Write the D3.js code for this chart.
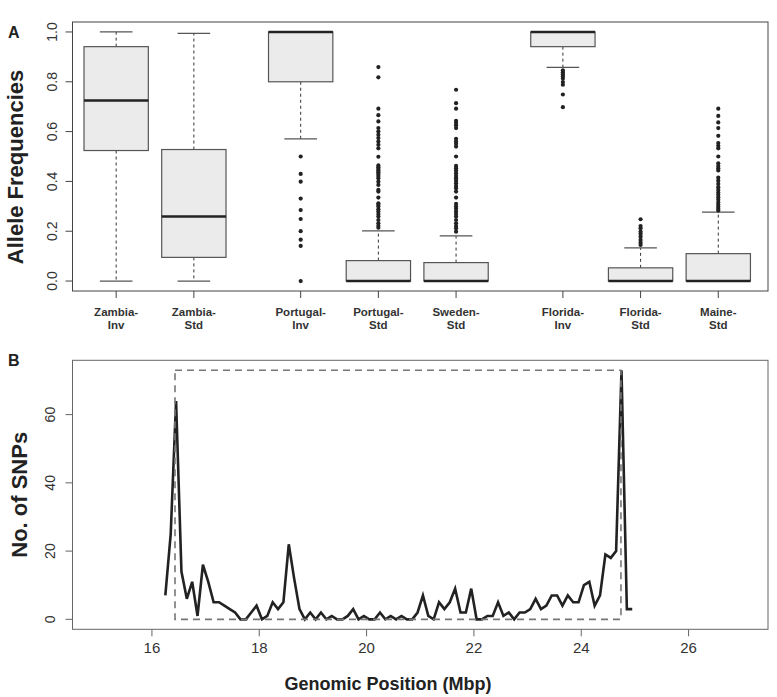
<!DOCTYPE html>
<html><head><meta charset="utf-8">
<script src="https://cdn.jsdelivr.net/npm/d3@7"></script>
<style>
html,body{margin:0;padding:0;background:#fff;}
svg text{font-family:"Liberation Sans",Arial,Helvetica,sans-serif;fill:#333;}
</style></head>
<body>
<svg id="chart" width="777" height="697"></svg>
<script>
// ---------- Panel A data ----------
const categories = ["Zambia-Inv","Zambia-Std","Portugal-Inv","Portugal-Std","Sweden-Std","Florida-Inv","Florida-Std","Maine-Std"];
const boxPositions = [1, 2, 3.375, 4.375, 5.375, 6.75, 7.75, 8.75];
const whiskerLow  = [0,     0,     0.571, 0,     0,     0.858, 0,     0];
const q1          = [0.524, 0.095, 0.80,  0,     0,     0.941, 0,     0];
const medians     = [0.725, 0.259, 1.0,   0,     0,     1.0,   0,     0];
const q3          = [0.941, 0.528, 1.0,   0.082, 0.074, 1.0,   0.053, 0.110];
const whiskerHigh = [1.0,   0.994, 1.0,   0.201, 0.181, 1.0,   0.133, 0.277];
const outliers = [
  [],
  [],
  [0.500,0.430,0.399,0.331,0.285,0.249,0.200,0.166,0.141,0.0],
  [0.859,0.818,0.692,0.666,0.641,0.614,0.600,0.587,0.574,0.560,0.547,0.533,0.499,0.464,0.457,0.450,0.444,0.437,0.430,0.422,0.413,0.399,0.386,0.366,0.359,0.335,0.312,0.306,0.299,0.288,0.279,0.269,0.259,0.245,0.232,0.222,0.214],
  [0.768,0.714,0.692,0.643,0.634,0.625,0.614,0.571,0.560,0.551,0.540,0.500,0.462,0.453,0.444,0.433,0.422,0.413,0.403,0.393,0.382,0.373,0.359,0.335,0.310,0.299,0.290,0.279,0.269,0.259,0.245,0.232,0.221,0.212,0.198],
  [0.846,0.838,0.830,0.822,0.813,0.799,0.788,0.749,0.698],
  [0.248,0.221,0.212,0.198,0.189,0.178,0.165,0.154,0.145],
  [0.692,0.663,0.637,0.614,0.583,0.554,0.543,0.533,0.500,0.473,0.462,0.453,0.444,0.415,0.403,0.390,0.377,0.366,0.355,0.346,0.336,0.326,0.315,0.306,0.298,0.290,0.283]
];
const yTicksA = [0, 0.2, 0.4, 0.6, 0.8, 1.0];

// ---------- Panel B data ----------
const positionsMbp = [16.25,16.35,16.45,16.55,16.65,16.75,16.85,16.95,17.05,17.15,17.25,17.35,17.45,17.55,17.65,17.75,17.85,17.95,
  18.05,18.15,18.25,18.35,18.45,18.55,18.65,18.75,18.85,18.95,19.05,19.15,19.25,19.35,19.45,19.55,19.65,19.75,19.85,19.95,
  20.05,20.15,20.25,20.35,20.45,20.55,20.65,20.75,20.85,20.95,21.05,21.15,21.25,21.35,21.45,21.55,21.65,21.75,21.85,21.95,
  22.05,22.15,22.25,22.35,22.45,22.55,22.65,22.75,22.85,22.95,23.05,23.15,23.25,23.35,23.45,23.55,23.65,23.75,23.85,23.95,
  24.05,24.15,24.25,24.35,24.45,24.55,24.65,24.75,24.85,24.95];
const snpCounts = [7,25,64,14,6,11,1,16,11,5,5,4,3,2,0,0,2,4,
  0,1,5,3,5,22,12,3,0,2,0,2,0,1,0,0,1,3,0,1,
  0,0,2,0,1,0,1,0,0,2,7,1,0,5,3,5,9,2,2,9,
  0,0,1,1,5,1,2,0,2,2,3,6,3,4,7,7,4,7,5,5,
  10,11,4,7,19,18,20,73,3,3];
const breakpoints = [16.43, 24.74];
const maxCount = 73;
const xTicksB = [16, 18, 20, 22, 24, 26];
const yTicksB = [0, 20, 40, 60];

// ---------- Drawing ----------
const svg = d3.select("#chart");
const FL = 72.5, FR = 768;

// Panel A
const A = {top: 22, bottom: 291};
const xA = d3.scaleLinear().domain([0.438, 9.39]).range([FL, FR]);
const yA = d3.scaleLinear().domain([-0.04, 1.04]).range([A.bottom, A.top]);
const unit = xA(1) - xA(0);
const boxHalf = 0.414 * unit, capHalf = 0.21 * unit;

const gA = svg.append("g");
categories.forEach((c, i) => {
  const cx = xA(boxPositions[i]);
  const g = gA.append("g");
  g.append("line").attr("x1", cx).attr("x2", cx).attr("y1", yA(q3[i])).attr("y2", yA(whiskerHigh[i]))
    .attr("stroke", "#333").attr("stroke-width", 1).attr("stroke-dasharray", "3,3");
  g.append("line").attr("x1", cx).attr("x2", cx).attr("y1", yA(q1[i])).attr("y2", yA(whiskerLow[i]))
    .attr("stroke", "#333").attr("stroke-width", 1).attr("stroke-dasharray", "3,3");
  [whiskerHigh[i], whiskerLow[i]].forEach(v => {
    g.append("line").attr("x1", cx - capHalf).attr("x2", cx + capHalf).attr("y1", yA(v)).attr("y2", yA(v))
      .attr("stroke", "#555").attr("stroke-width", 1.2);
  });
  g.append("rect").attr("x", cx - boxHalf).attr("width", 2 * boxHalf)
    .attr("y", yA(q3[i])).attr("height", Math.max(0, yA(q1[i]) - yA(q3[i])))
    .attr("fill", "#ebebeb").attr("stroke", "#555").attr("stroke-width", 1.2);
  g.append("line").attr("x1", cx - boxHalf).attr("x2", cx + boxHalf).attr("y1", yA(medians[i])).attr("y2", yA(medians[i]))
    .attr("stroke", "#222").attr("stroke-width", 2.6);
  g.selectAll("circle").data(outliers[i]).enter().append("circle")
    .attr("cx", cx).attr("cy", d => yA(d)).attr("r", 2.1).attr("fill", "#222");
});
gA.append("rect").attr("x", FL).attr("y", A.top).attr("width", FR - FL).attr("height", A.bottom - A.top)
  .attr("fill", "none").attr("stroke", "#444").attr("stroke-width", 1);
yTicksA.forEach(t => {
  gA.append("line").attr("x1", FL - 7).attr("x2", FL).attr("y1", yA(t)).attr("y2", yA(t)).attr("stroke", "#444");
  gA.append("text").attr("transform", `translate(57,${yA(t)}) rotate(-90)`).attr("text-anchor", "middle")
    .attr("font-size", 14).text(d3.format(".1f")(t));
});
categories.forEach((c, i) => {
  const cx = xA(boxPositions[i]);
  gA.append("line").attr("x1", cx).attr("x2", cx).attr("y1", A.bottom).attr("y2", A.bottom + 7).attr("stroke", "#444");
  const k = c.indexOf("-");
  gA.append("text").attr("x", cx).attr("y", 316).attr("text-anchor", "middle").attr("font-size", 11.5)
    .attr("font-weight", "bold").text(c.slice(0, k + 1));
  gA.append("text").attr("x", cx).attr("y", 329).attr("text-anchor", "middle").attr("font-size", 11.5)
    .attr("font-weight", "bold").text(c.slice(k + 1));
});
gA.append("text").attr("transform", "translate(23,167) rotate(-90)").attr("text-anchor", "middle")
  .attr("font-size", 22).attr("font-weight", "bold").style("fill", "#222").text("Allele Frequencies");
gA.append("text").attr("x", 8).attr("y", 38).attr("font-size", 16).attr("font-weight", "bold").style("fill", "#222").text("A");

// Panel B
const B = {top: 360.3, bottom: 629.3};
const xB = d3.scaleLinear().domain([14.52, 27.48]).range([FL, FR]);
const yB = d3.scaleLinear().domain([-2.92, 75.92]).range([B.bottom, B.top]);
const gB = svg.append("g");
const lineGen = d3.line().x(d => xB(d[0])).y(d => yB(d[1]));
gB.append("path").datum(positionsMbp.map((p, i) => [p, snpCounts[i]]))
  .attr("d", lineGen).attr("fill", "none").attr("stroke", "#222").attr("stroke-width", 2.6)
  .attr("stroke-linejoin", "miter");
gB.append("rect").attr("x", xB(breakpoints[0])).attr("y", yB(maxCount))
  .attr("width", xB(breakpoints[1]) - xB(breakpoints[0])).attr("height", yB(0) - yB(maxCount))
  .attr("fill", "none").attr("stroke", "#777").attr("stroke-width", 1.6).attr("stroke-dasharray", "7,5");
gB.append("rect").attr("x", FL).attr("y", B.top).attr("width", FR - FL).attr("height", B.bottom - B.top)
  .attr("fill", "none").attr("stroke", "#666").attr("stroke-width", 1);
yTicksB.forEach(t => {
  gB.append("line").attr("x1", FL - 7).attr("x2", FL).attr("y1", yB(t)).attr("y2", yB(t)).attr("stroke", "#666");
  gB.append("text").attr("transform", `translate(55,${yB(t)}) rotate(-90)`).attr("text-anchor", "middle")
    .attr("font-size", 14).text(t);
});
xTicksB.forEach(t => {
  gB.append("line").attr("x1", xB(t)).attr("x2", xB(t)).attr("y1", B.bottom).attr("y2", B.bottom + 7).attr("stroke", "#666");
  gB.append("text").attr("x", xB(t)).attr("y", 653).attr("text-anchor", "middle").attr("font-size", 15).text(t);
});
gB.append("text").attr("x", 388).attr("y", 690).attr("text-anchor", "middle").attr("font-size", 18)
  .attr("font-weight", "bold").style("fill", "#222").text("Genomic Position (Mbp)");
gB.append("text").attr("transform", `translate(27,${(B.top + B.bottom) / 2}) rotate(-90)`).attr("text-anchor", "middle")
  .attr("font-size", 22).attr("font-weight", "bold").style("fill", "#222").text("No. of SNPs");
gB.append("text").attr("x", 8).attr("y", 366).attr("font-size", 16).attr("font-weight", "bold").style("fill", "#222").text("B");
</script>
</body></html>
